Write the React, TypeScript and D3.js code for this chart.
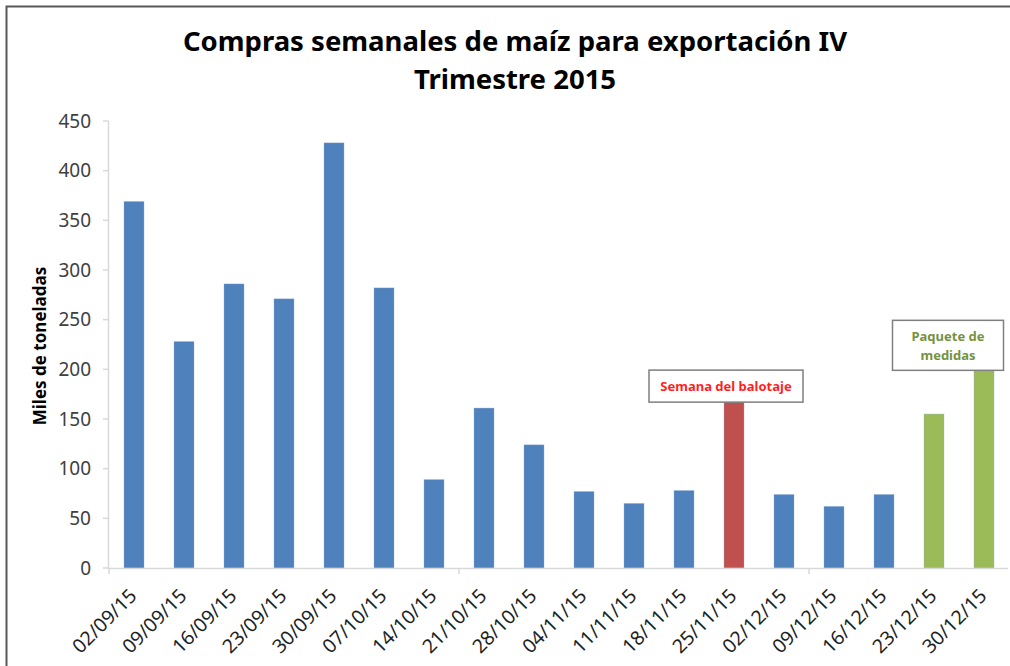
import React, { useRef, useEffect } from "react";
import * as d3 from "d3";

// weekly purchases (thousand tonnes)
const weeks = [
  "02/09/15", "09/09/15", "16/09/15", "23/09/15", "30/09/15", "07/10/15",
  "14/10/15", "21/10/15", "28/10/15", "04/11/15", "11/11/15", "18/11/15",
  "25/11/15", "02/12/15", "09/12/15", "16/12/15", "23/12/15", "30/12/15",
];
const tons = [369, 228, 286, 271, 428, 282, 89, 161, 124, 77, 65, 78, 168, 74, 62, 74, 155, 200];
// which group each week belongs to
const groups = [
  "normal", "normal", "normal", "normal", "normal", "normal",
  "normal", "normal", "normal", "normal", "normal", "normal",
  "balotaje", "normal", "normal", "normal", "medidas", "medidas",
];
const yTicks = [0, 50, 100, 150, 200, 250, 300, 350, 400, 450];
const majorTickIdx = [0, 7, 14];

const notes = [
  { week: "25/11/15", lines: ["Semana del balotaje"], color: "#ff1f1f", w: 154, dx: -8 },
  { week: "30/12/15", lines: ["Paquete de", "medidas"], color: "#76923c", w: 111, dx: -36 },
];

const W = 1010;
const H = 666;
const font = "'Noto Sans', 'Open Sans', sans-serif";

export default function App() {
  const gRef = useRef<SVGGElement>(null);

  useEffect(() => {
    const g = d3.select(gRef.current);
    g.selectAll("*").remove();

    const x = d3.scaleBand<string>().domain(weeks).range([109, 1009]).paddingInner(0.6).paddingOuter(0.3);
    const y = d3.scaleLinear().domain([0, 450]).range([568, 121]);
    const color = d3.scaleOrdinal<string, string>()
      .domain(["normal", "balotaje", "medidas"])
      .range(["#4f81bd", "#c0504d", "#9bbb59"]);

    // frame
    g.append("rect")
      .attr("x", 6.5).attr("y", 6.5)
      .attr("width", W).attr("height", H)
      .attr("fill", "white")
      .attr("stroke", "#595959").attr("stroke-width", 2);

    // title
    const title = g.append("text")
      .attr("text-anchor", "middle")
      .attr("font-family", font)
      .attr("font-weight", "bold")
      .attr("font-size", 27.5)
      .attr("fill", "#000");
    title.append("tspan").attr("x", 515).attr("y", 51)
      .text("Compras semanales de maíz para exportación IV");
    title.append("tspan").attr("x", 515).attr("y", 89).text("Trimestre 2015");

    // y axis
    const yAxis = g.append("g");
    yAxis.append("line")
      .attr("x1", 108.5).attr("x2", 108.5)
      .attr("y1", y(450)).attr("y2", y(0))
      .attr("stroke", "#d9d9d9").attr("stroke-width", 1.5);
    yAxis.selectAll(".yt")
      .data(yTicks)
      .enter()
      .append("line")
      .attr("x1", 103).attr("x2", 108.5)
      .attr("y1", d => y(d)).attr("y2", d => y(d))
      .attr("stroke", "#d9d9d9").attr("stroke-width", 1.5);
    yAxis.selectAll(".yl")
      .data(yTicks)
      .enter()
      .append("text")
      .attr("x", 91)
      .attr("y", d => y(d))
      .attr("dy", "0.35em")
      .attr("text-anchor", "end")
      .attr("font-family", font)
      .attr("font-size", 19)
      .attr("fill", "#404040")
      .text(d => d);

    g.append("text")
      .attr("transform", `translate(46, 346) rotate(-90)`)
      .attr("text-anchor", "middle")
      .attr("font-family", font)
      .attr("font-weight", "bold")
      .attr("font-size", 17)
      .attr("fill", "#000")
      .text("Miles de toneladas");

    // bars
    g.selectAll(".bar")
      .data(weeks)
      .enter()
      .append("rect")
      .attr("x", d => x(d) as number)
      .attr("width", x.bandwidth())
      .attr("y", (d, i) => y(tons[i]))
      .attr("height", (d, i) => y(0) - y(tons[i]))
      .attr("fill", (d, i) => color(groups[i]))
      .attr("stroke", "#8fb0d8")
      .attr("stroke-opacity", 0.35)
      .attr("stroke-width", 1);

    // x axis
    g.append("line")
      .attr("x1", 108).attr("x2", 1008)
      .attr("y1", y(0) + 0.5).attr("y2", y(0) + 0.5)
      .attr("stroke", "#d9d9d9").attr("stroke-width", 1.5);
    g.selectAll(".xt")
      .data(majorTickIdx)
      .enter()
      .append("line")
      .attr("x1", i => 109 + x.step() * i)
      .attr("x2", i => 109 + x.step() * i)
      .attr("y1", y(0)).attr("y2", y(0) + 6)
      .attr("stroke", "#d9d9d9").attr("stroke-width", 1.5);
    g.selectAll(".xl")
      .data(weeks)
      .enter()
      .append("text")
      .attr("transform", d => `translate(${(x(d) as number) + x.bandwidth() / 2 + 4}, 597) rotate(-45)`)
      .attr("text-anchor", "end")
      .attr("font-family", font)
      .attr("font-size", 19.5)
      .attr("fill", "#1f1f1f")
      .text(d => d);

    // annotation boxes
    notes.forEach(n => {
      const i = weeks.indexOf(n.week);
      const cx = (x(n.week) as number) + x.bandwidth() / 2 + n.dx;
      const bottom = y(tons[i]) + 1;
      const h = n.lines.length === 1 ? 32 : 50;
      const box = g.append("g");
      box.append("rect")
        .attr("x", cx - n.w / 2).attr("y", bottom - h)
        .attr("width", n.w).attr("height", h)
        .attr("fill", "white")
        .attr("stroke", "#7f7f7f").attr("stroke-width", 1.5);
      n.lines.forEach((l, k) => {
        box.append("text")
          .attr("x", cx)
          .attr("y", bottom - h + (n.lines.length === 1 ? 21 : 21 + k * 19))
          .attr("text-anchor", "middle")
          .attr("font-family", font)
          .attr("font-weight", "bold")
          .attr("font-size", 13)
          .attr("fill", n.color)
          .text(l);
      });
    });
  }, []);

  return (
    <svg width={W} height={H} style={{ position: "absolute", left: 0, top: 0 }}>
      <g ref={gRef} />
    </svg>
  );
}
